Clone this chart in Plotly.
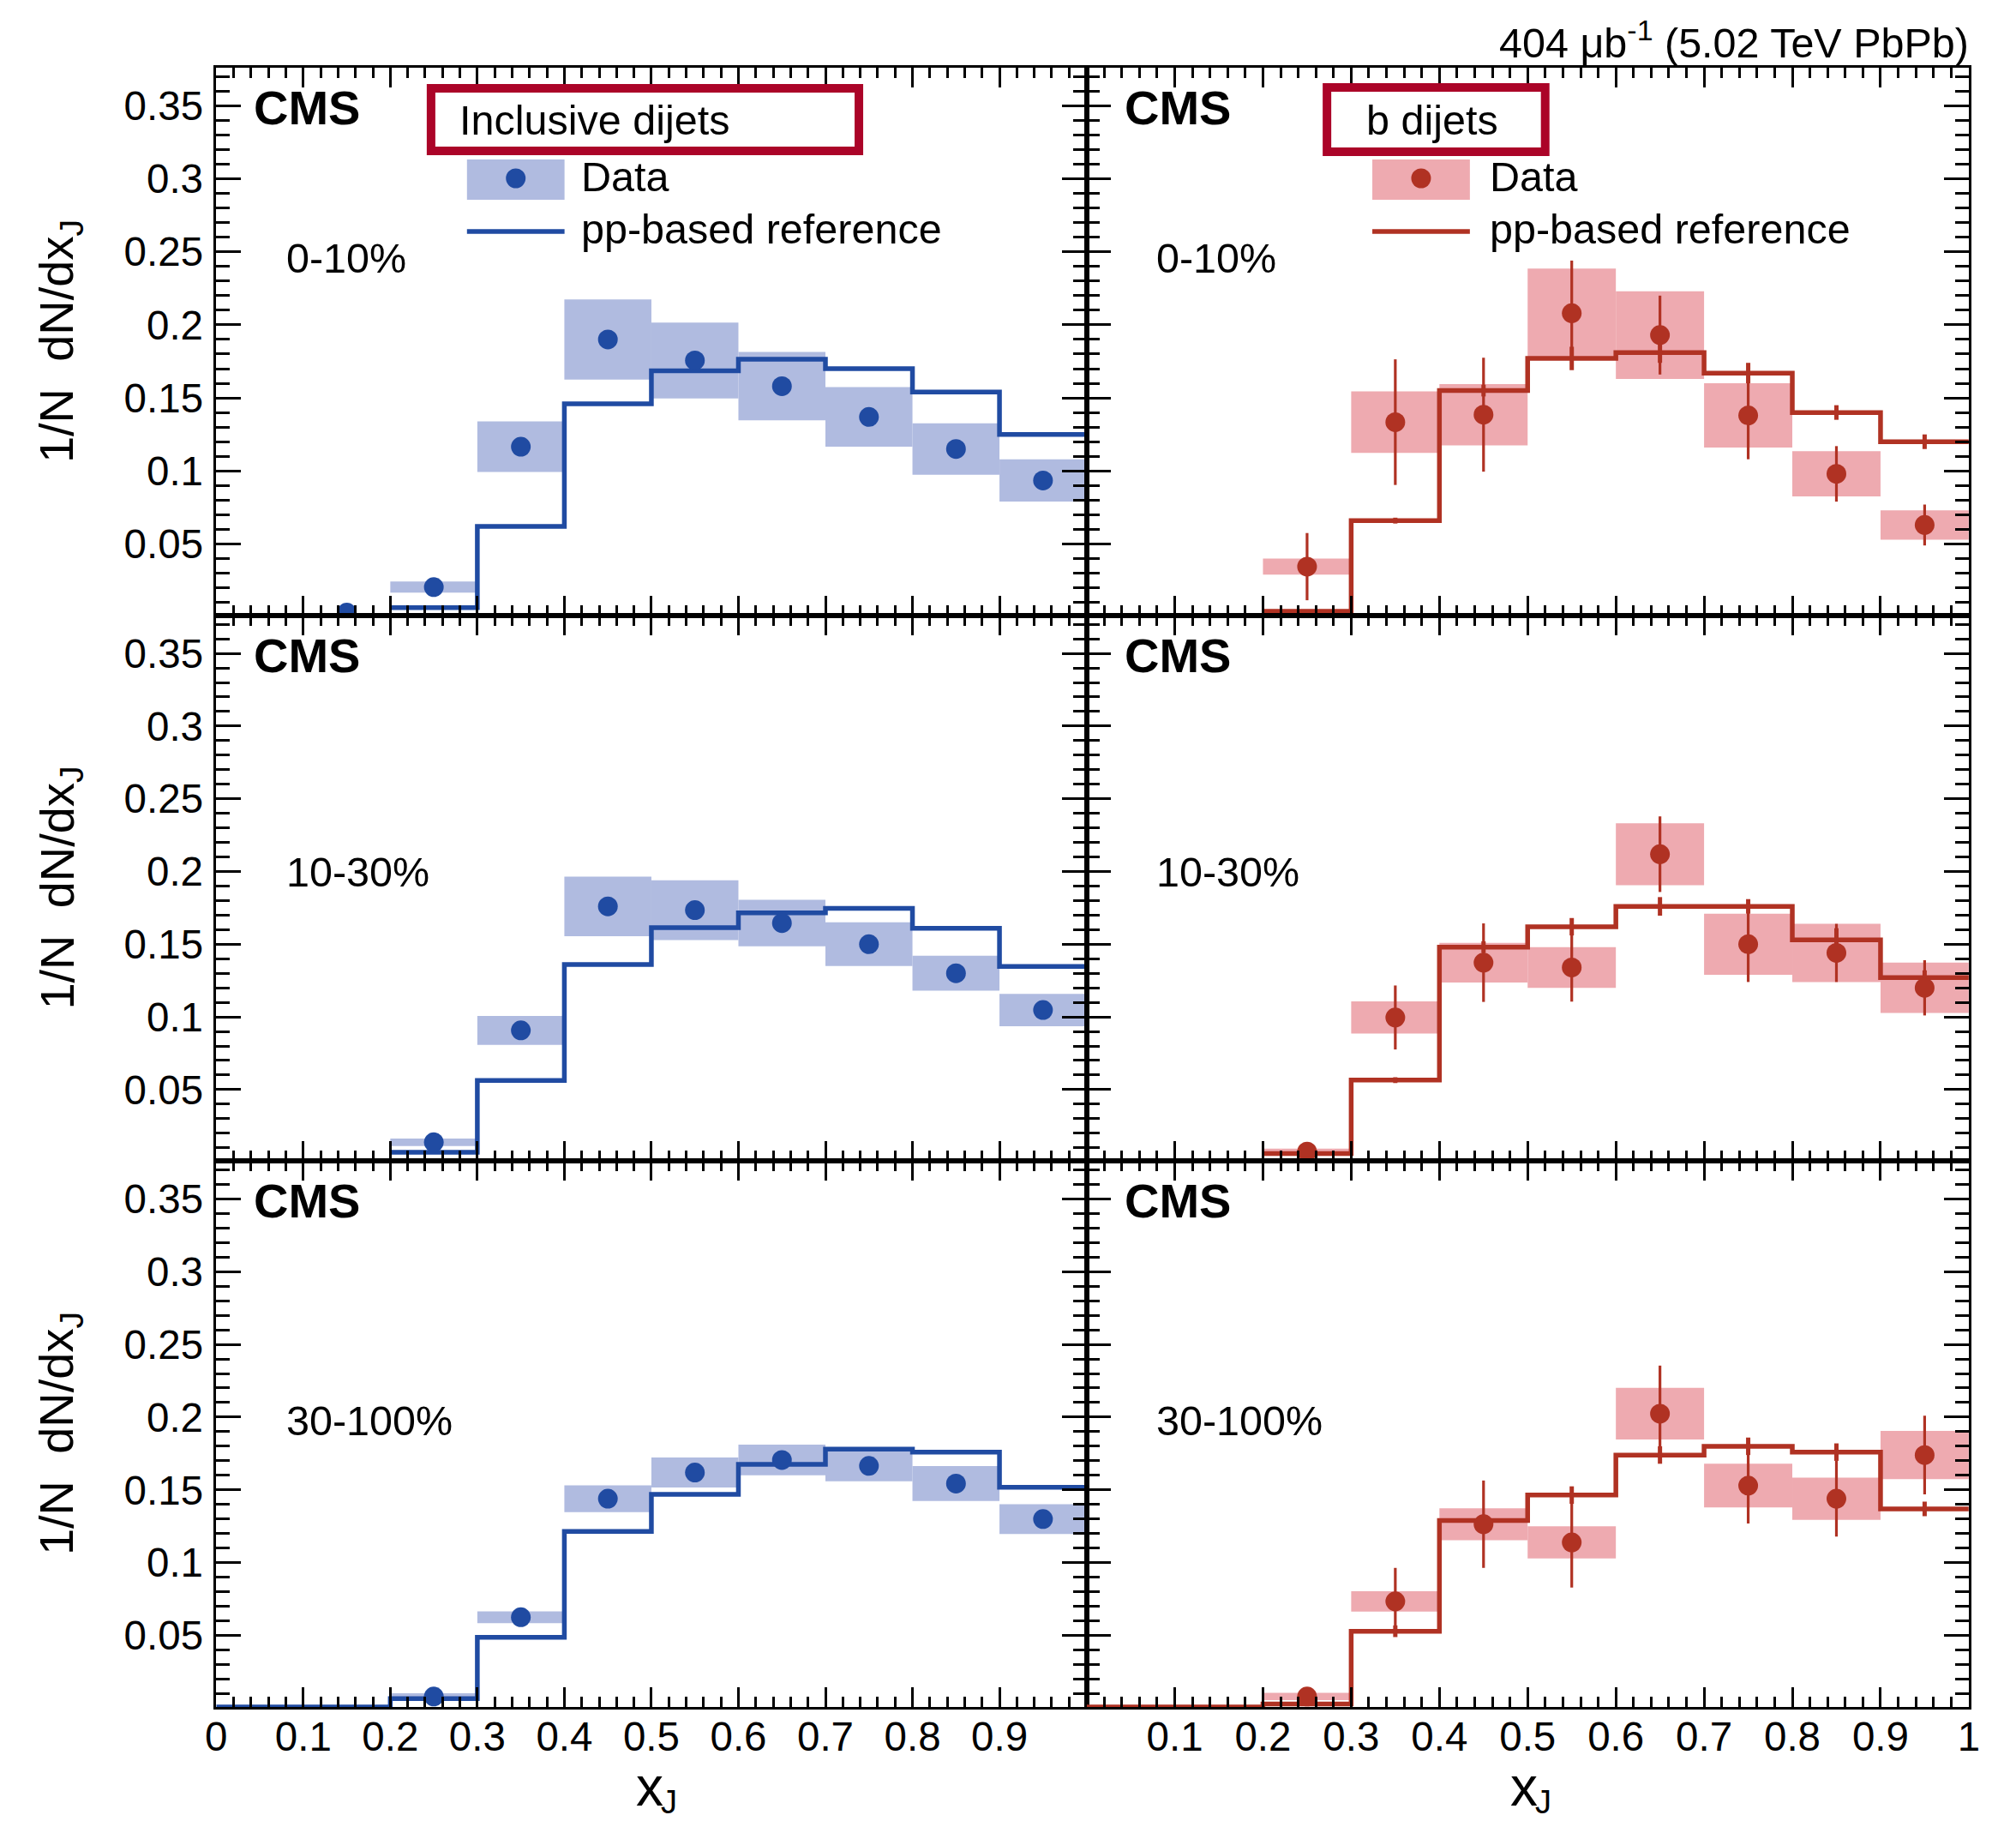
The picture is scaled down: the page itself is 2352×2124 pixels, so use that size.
import plotly.graph_objects as go

W, H = 2352, 2124
FONT = "Liberation Sans, Arial, Helvetica, sans-serif"

# ---------------- data ----------------
bin_edges = [0.0, 0.1, 0.2, 0.3, 0.4, 0.5, 0.6, 0.7, 0.8, 0.9, 1.0]
bin_centers = [0.05, 0.15, 0.25, 0.35, 0.45, 0.55, 0.65, 0.75, 0.85, 0.95]
centralities = ["0-10%", "10-30%", "30-100%"]
x_tick_vals = [0.0, 0.1, 0.2, 0.3, 0.4, 0.5, 0.6, 0.7, 0.8, 0.9, 1.0]
x_tick_text_left = ["0", "0.1", "0.2", "0.3", "0.4", "0.5", "0.6", "0.7", "0.8", "0.9", ""]
x_tick_text_right = ["", "0.1", "0.2", "0.3", "0.4", "0.5", "0.6", "0.7", "0.8", "0.9", "1"]
y_tick_vals = [0.05, 0.10, 0.15, 0.20, 0.25, 0.30, 0.35]
y_tick_text = ["0.05", "0.1", "0.15", "0.2", "0.25", "0.3", "0.35"]

# Inclusive dijets
incl_0_10_val = [None, 0.003, 0.0205, 0.1166, 0.190, 0.1756, 0.158, 0.137, 0.115, 0.0935]
incl_0_10_sys = [None, 0.0, 0.0038, 0.0173, 0.0274, 0.026, 0.0234, 0.0204, 0.0176, 0.0145]
incl_0_10_ref = [None, None, 0.0065, 0.062, 0.146, 0.1685, 0.1764, 0.170, 0.154, 0.125]

incl_10_30_val = [None, None, 0.0138, 0.0907, 0.176, 0.1734, 0.1645, 0.150, 0.130, 0.1047]
incl_10_30_sys = [None, None, 0.0026, 0.010, 0.0205, 0.0205, 0.016, 0.015, 0.012, 0.0112]
incl_10_30_ref = [None, None, 0.0069, 0.0563, 0.136, 0.1614, 0.1716, 0.1747, 0.161, 0.1347]

incl_30_100_val = [None, None, 0.0082, 0.0626, 0.144, 0.162, 0.1706, 0.1665, 0.1544, 0.130]
incl_30_100_sys = [None, None, 0.0022, 0.004, 0.0092, 0.0103, 0.0105, 0.0105, 0.012, 0.0103]
incl_30_100_ref = [0.001, 0.001, 0.0068, 0.0488, 0.1215, 0.147, 0.1676, 0.178, 0.176, 0.1518]

# b dijets
b_0_10_val = [None, None, 0.0345, 0.1334, 0.1385, 0.208, 0.193, 0.138, 0.098, 0.063]
b_0_10_sys = [None, None, 0.0055, 0.021, 0.021, 0.0305, 0.030, 0.022, 0.0155, 0.010]
b_0_10_stat = [None, None, 0.023, 0.043, 0.039, 0.036, 0.027, 0.030, 0.019, 0.014]
b_0_10_ref = [None, None, 0.004, 0.066, 0.155, 0.177, 0.181, 0.167, 0.140, 0.120]
b_0_10_ref_err = [None, None, 0.0, 0.002, 0.004, 0.008, 0.007, 0.007, 0.005, 0.005]

b_10_30_val = [None, None, 0.0074, 0.0996, 0.1373, 0.134, 0.2119, 0.150, 0.144, 0.120]
b_10_30_sys = [None, None, 0.002, 0.011, 0.0136, 0.014, 0.0213, 0.021, 0.020, 0.0173]
b_10_30_stat = [None, None, 0.002, 0.022, 0.027, 0.0235, 0.026, 0.026, 0.020, 0.019]
b_10_30_ref = [None, None, 0.006, 0.0565, 0.148, 0.162, 0.176, 0.176, 0.153, 0.127]
b_10_30_ref_err = [None, None, 0.0, 0.002, 0.004, 0.006, 0.0064, 0.005, 0.008, 0.005]

b_30_100_val = [None, None, 0.0082, 0.0735, 0.1265, 0.114, 0.2024, 0.153, 0.144, 0.174]
b_30_100_sys = [None, None, 0.0025, 0.007, 0.011, 0.011, 0.0177, 0.015, 0.0145, 0.0165]
b_30_100_stat = [None, None, 0.003, 0.023, 0.030, 0.031, 0.033, 0.026, 0.026, 0.027]
b_30_100_ref = [0.001, 0.001, 0.003, 0.053, 0.129, 0.1465, 0.174, 0.180, 0.176, 0.137]
b_30_100_ref_err = [0.0, 0.0, 0.0, 0.004, 0.004, 0.006, 0.006, 0.006, 0.006, 0.005]

# ---------------- style ----------------
BLUE = "#204BA2"
BLUE_FILL = "#B0BBE0"
RED = "#B03223"
RED_FILL = "#EEAAB0"
BOX_RED = "#AB0428"
TXT = 48.5

Y_RANGE = [0.001, 0.376]
col_px = [(250, 1267), (1267, 2298)]
row_px = [(79, 718), (718, 1354), (1354, 1991)]

# horizontal placement calibration (rendered page is slightly narrower than W)
X_OFF, X_SCALE = 10.3, 0.9906


def X(p):
    return (p - X_OFF) / X_SCALE / W


def Y(p):
    return 1 - p / H


panels = [
    # (row, col, val, sys, stat, ref, ref_err, color, fill)
    (0, 0, incl_0_10_val, incl_0_10_sys, None, incl_0_10_ref, None, BLUE, BLUE_FILL),
    (0, 1, b_0_10_val, b_0_10_sys, b_0_10_stat, b_0_10_ref, b_0_10_ref_err, RED, RED_FILL),
    (1, 0, incl_10_30_val, incl_10_30_sys, None, incl_10_30_ref, None, BLUE, BLUE_FILL),
    (1, 1, b_10_30_val, b_10_30_sys, b_10_30_stat, b_10_30_ref, b_10_30_ref_err, RED, RED_FILL),
    (2, 0, incl_30_100_val, incl_30_100_sys, None, incl_30_100_ref, None, BLUE, BLUE_FILL),
    (2, 1, b_30_100_val, b_30_100_sys, b_30_100_stat, b_30_100_ref, b_30_100_ref_err, RED, RED_FILL),
]

fig = go.Figure()
layout = dict(
    width=W, height=H,
    margin=dict(l=0, r=0, t=0, b=0),
    paper_bgcolor="white", plot_bgcolor="white",
    showlegend=False, barmode="overlay",
    font=dict(family=FONT, size=TXT, color="black"),
)

for (r, c, val, sys, stat, ref, ref_err, color, fill) in panels:
    n = r * 2 + c + 1
    xa = "x" if n == 1 else f"x{n}"
    ya = "y" if n == 1 else f"y{n}"
    idx = [i for i, v in enumerate(val) if v is not None]
    # systematic boxes
    fig.add_trace(go.Bar(
        x=[bin_centers[i] for i in idx],
        y=[2 * sys[i] for i in idx],
        base=[val[i] - sys[i] for i in idx],
        width=0.1, marker=dict(color=fill, line=dict(width=0)),
        xaxis=xa, yaxis=ya, hoverinfo="skip",
    ))
    # pp-based reference step
    ridx = [i for i, v in enumerate(ref) if v is not None]
    sx = [bin_edges[i] for i in ridx] + [bin_edges[-1]]
    sy = [ref[i] for i in ridx] + [ref[ridx[-1]]]
    fig.add_trace(go.Scatter(
        x=sx, y=sy, mode="lines", line=dict(color=color, width=5.5, shape="hv"),
        xaxis=xa, yaxis=ya, hoverinfo="skip",
    ))
    if ref_err is not None:
        fig.add_trace(go.Scatter(
            x=[bin_centers[i] for i in ridx], y=[ref[i] for i in ridx], mode="markers",
            marker=dict(size=1, color="rgba(0,0,0,0)"),
            error_y=dict(type="data", array=[ref_err[i] for i in ridx], width=0,
                         thickness=5, color=color),
            xaxis=xa, yaxis=ya, hoverinfo="skip",
        ))
    # data points
    err = None
    if stat is not None:
        err = dict(type="data", array=[stat[i] for i in idx], width=0, thickness=3.2, color=color)
    fig.add_trace(go.Scatter(
        x=[bin_centers[i] for i in idx], y=[val[i] for i in idx], mode="markers",
        marker=dict(size=23, color=color, line=dict(width=0)),
        error_y=err, xaxis=xa, yaxis=ya, hoverinfo="skip",
    ))

    x0, x1 = col_px[c]
    y0, y1 = row_px[r]
    common = dict(
        showline=True, linecolor="black", linewidth=2.5, mirror="ticks",
        ticks="inside", tickcolor="black", tickwidth=2.5,
        showgrid=False, zeroline=False,
        tickfont=dict(family=FONT, size=47.5, color="black"),
    )
    layout["xaxis" if n == 1 else f"xaxis{n}"] = dict(
        common, domain=[X(x0), X(x1)], anchor=ya, range=[0, 1],
        tickmode="array", tickvals=x_tick_vals,
        ticktext=x_tick_text_left if c == 0 else x_tick_text_right,
        showticklabels=(r == 2), ticklen=23, ticklabelstandoff=-9,
        minor=dict(ticks="inside", ticklen=12, tickwidth=2.5, tickcolor="black",
                   tickmode="linear", tick0=0, dtick=0.02),
    )
    layout["yaxis" if n == 1 else f"yaxis{n}"] = dict(
        common, domain=[Y(y1), Y(y0)], anchor=xa, range=Y_RANGE,
        tickmode="array", tickvals=y_tick_vals, ticktext=y_tick_text,
        showticklabels=(c == 0), ticklen=29, ticklabelstandoff=3,
        minor=dict(ticks="inside", ticklen=16, tickwidth=2.5, tickcolor="black",
                   tickmode="linear", tick0=0, dtick=0.01),
    )

annotations = []
shapes = []

for r in range(3):
    y0, y1 = row_px[r]
    # y-axis title
    annotations.append(dict(
        xref="paper", yref="paper", x=X(67), y=Y((y0 + y1) / 2),
        text="1/N  dN/dx<sub>J</sub>", textangle=-90, showarrow=False,
        xanchor="center", yanchor="middle", font=dict(family=FONT, size=56),
    ))
    for c in range(2):
        x0, x1 = col_px[c]
        annotations.append(dict(
            xref="paper", yref="paper", x=X(x0 + 42), y=Y(y0 + 47),
            text="<b>CMS</b>", showarrow=False, xanchor="left", yanchor="middle",
            font=dict(family=FONT, size=56),
        ))
        cy = y0 + 222 if r == 0 else (y0 + 299 if r == 1 else y0 + 303)
        annotations.append(dict(
            xref="paper", yref="paper", x=X(x0 + 80), y=Y(cy),
            text=centralities[r], showarrow=False, xanchor="left", yanchor="middle",
            font=dict(family=FONT, size=TXT),
        ))

# x-axis titles: "x" with a lowered subscript "J"
for cx in (757, 1778):
    annotations.append(dict(
        xref="paper", yref="paper", x=X(cx), y=Y(2084),
        text="x", showarrow=False, xanchor="center", yanchor="middle",
        font=dict(family=FONT, size=64),
    ))
    annotations.append(dict(
        xref="paper", yref="paper", x=X(cx + 12), y=0.0,
        text="J", showarrow=False, xanchor="left", yanchor="bottom",
        font=dict(family=FONT, size=38), borderpad=0,
    ))

# luminosity label
annotations.append(dict(
    xref="paper", yref="paper", x=X(2300), y=Y(47),
    text="404 \u03bcb<sup>-1</sup> (5.02 TeV PbPb)", showarrow=False,
    xanchor="right", yanchor="middle", font=dict(family=FONT, size=TXT),
))

# legends
legends = [
    # (box x0, box x1, box y0, box y1, title, title x, sym x0, sym x1, text x, color, fill)
    (501, 1001, 103, 176, "Inclusive dijets", 532, 543, 657, 674, BLUE, BLUE_FILL),
    (1548, 1803, 102, 177, "b dijets", 1592, 1601, 1715, 1736, RED, RED_FILL),
]
for (bx0, bx1, by0, by1, title, tx, sx0, sx1, txt, color, fill) in legends:
    shapes.append(dict(type="rect", xref="paper", yref="paper",
                       x0=X(bx0), x1=X(bx1), y0=Y(by1), y1=Y(by0),
                       line=dict(color=BOX_RED, width=10), fillcolor="rgba(0,0,0,0)"))
    annotations.append(dict(xref="paper", yref="paper", x=X(tx), y=Y(140),
                            text=title, showarrow=False, xanchor="left", yanchor="middle",
                            font=dict(family=FONT, size=TXT)))
    shapes.append(dict(type="rect", xref="paper", yref="paper",
                       x0=X(sx0), x1=X(sx1), y0=Y(233), y1=Y(186),
                       line=dict(width=0), fillcolor=fill, layer="above"))
    mx = (sx0 + sx1) / 2
    shapes.append(dict(type="circle", xref="paper", yref="paper",
                       x0=X(mx - 11.5), x1=X(mx + 11.5), y0=Y(208 + 11.5), y1=Y(208 - 11.5),
                       line=dict(width=0), fillcolor=color))
    shapes.append(dict(type="line", xref="paper", yref="paper",
                       x0=X(sx0), x1=X(sx1), y0=Y(270), y1=Y(270),
                       line=dict(color=color, width=5.5)))
    annotations.append(dict(xref="paper", yref="paper", x=X(txt), y=Y(206),
                            text="Data", showarrow=False, xanchor="left", yanchor="middle",
                            font=dict(family=FONT, size=TXT)))
    annotations.append(dict(xref="paper", yref="paper", x=X(txt), y=Y(267),
                            text="pp-based reference", showarrow=False, xanchor="left",
                            yanchor="middle", font=dict(family=FONT, size=TXT)))

layout["annotations"] = annotations
layout["shapes"] = shapes
fig.update_layout(**layout)
fig.write_html("out.html")
